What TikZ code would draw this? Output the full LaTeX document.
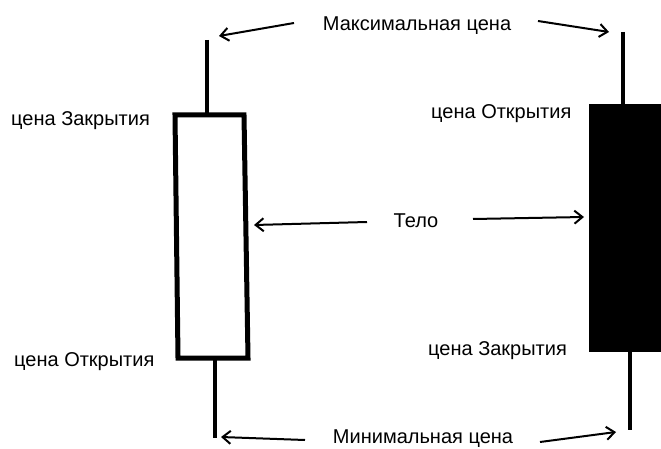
\documentclass[tikz,border=0pt]{standalone}
\usepackage{fontspec}
\setmainfont{Liberation Sans}
\usetikzlibrary{arrows.meta}
\begin{document}
\begin{tikzpicture}[x=1pt,y=-1pt,
  lbl/.style={inner sep=0pt,font=\fontsize{20}{22}\selectfont},
  wick/.style={line width=4pt},
  ptr/.style={line width=2pt,-{Straight Barb[length=8pt,width=13pt,line width=2pt]}}]
\useasboundingbox (0,0) rectangle (661,449);
% left candle (white)
\draw[line width=5pt,fill=white] (175,115) -- (244,115) -- (248,358) -- (178,358) -- cycle;
\coordinate (lwt) at (207,40);
\coordinate (lwtb) at (207,113);
\coordinate (lwb) at (215,438);
\coordinate (lwbb) at (215,360);
\draw[wick] (lwt) -- (lwtb);
\draw[wick] (lwbb) -- (lwb);
% right candle (black)
\fill (589,104) rectangle (661,352);
\coordinate (rwt) at (623,32);
\coordinate (rwtb) at (623,105);
\coordinate (rwb) at (630,430);
\coordinate (rwbb) at (630,350);
\draw[wick] (rwt) -- (rwtb);
\draw[wick] (rwbb) -- (rwb);
% labels
\node[lbl,anchor=base] (max) at (417,31) {Максимальная цена};
\node[lbl,anchor=base] (body) at (416,228) {Тело};
\node[lbl,anchor=base] (min) at (423,443) {Минимальная цена};
\node[lbl,anchor=base west] (lc) at (11,126) {цена Закрытия};
\node[lbl,anchor=base west] (lo) at (14,366) {цена Открытия};
\node[lbl,anchor=base west] (ro) at (431,119) {цена Открытия};
\node[lbl,anchor=base west] (rc) at (428,355) {цена Закрытия};
% arrows
\coordinate (a1s) at (294,23); \coordinate (a1e) at (219,36);
\coordinate (a2s) at (538,21); \coordinate (a2e) at (609,32);
\coordinate (a3s) at (367,222); \coordinate (a3e) at (254,225);
\coordinate (a4s) at (473,219); \coordinate (a4e) at (584,217);
\coordinate (a5s) at (305,440); \coordinate (a5e) at (221,437);
\coordinate (a6s) at (540,442); \coordinate (a6e) at (616,432);
\draw[ptr] (a1s) -- (a1e);
\draw[ptr] (a2s) -- (a2e);
\draw[ptr] (a3s) -- (a3e);
\draw[ptr] (a4s) -- (a4e);
\draw[ptr] (a5s) -- (a5e);
\draw[ptr] (a6s) -- (a6e);
\end{tikzpicture}
\end{document}
